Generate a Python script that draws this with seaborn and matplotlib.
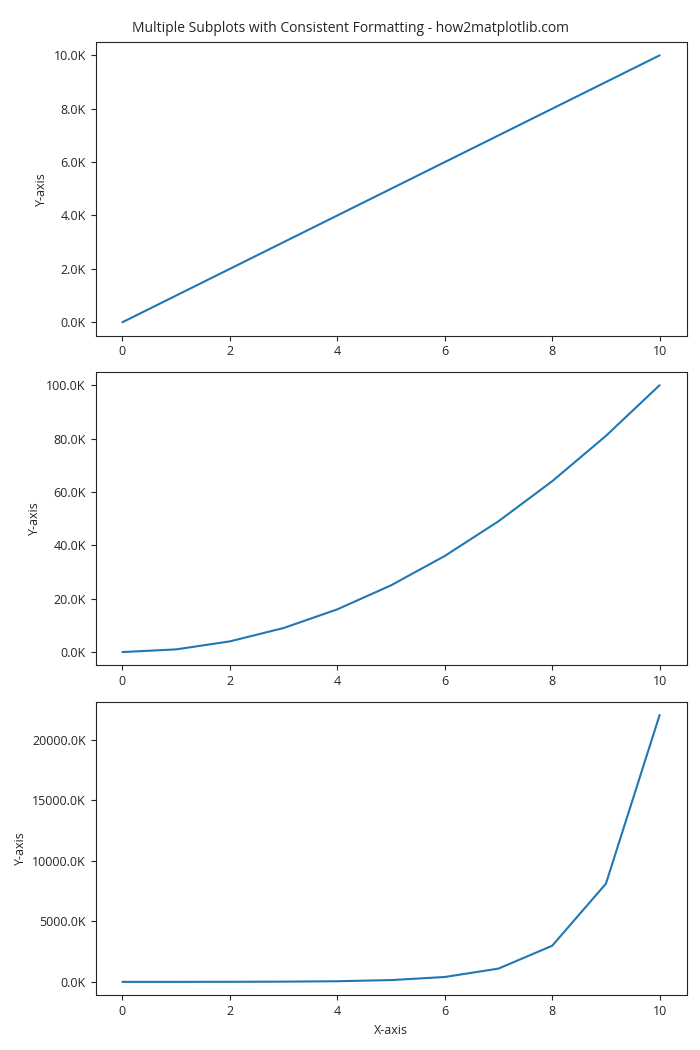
import matplotlib
matplotlib.use("Agg")
import matplotlib.pyplot as plt
import matplotlib.ticker as mticker
import seaborn as sns

x_vals = [0, 1, 2, 3, 4, 5, 6, 7, 8, 9, 10]
linear_vals = [0, 1000, 2000, 3000, 4000, 5000, 6000, 7000, 8000, 9000, 10000]
square_vals = [0, 1000, 4000, 9000, 16000, 25000, 36000, 49000, 64000, 81000, 100000]
exp_vals = [1000, 2718, 7389, 20086, 54598, 148413, 403429, 1096633, 2980958, 8103084, 22026466]

sns.set_style("ticks")
plt.rcParams['font.family'] = ['Open Sans', 'DejaVu Sans']
plt.rcParams['font.size'] = 9

fig, axes = plt.subplots(3, 1, figsize=(7, 10.5), dpi=100)
for ax, y in zip(axes, [linear_vals, square_vals, exp_vals]):
    sns.lineplot(x=x_vals, y=y, ax=ax, color="#1f77b4")
    ax.yaxis.set_major_formatter(mticker.FuncFormatter(lambda v, p: f"{v/1000:.1f}K"))
    ax.set_ylabel("Y-axis")
    for s in ax.spines.values():
        s.set_visible(True)
axes[-1].set_xlabel("X-axis")

fig.suptitle("Multiple Subplots with Consistent Formatting - how2matplotlib.com", fontsize=10)
fig.tight_layout()
fig.savefig("out.png")
